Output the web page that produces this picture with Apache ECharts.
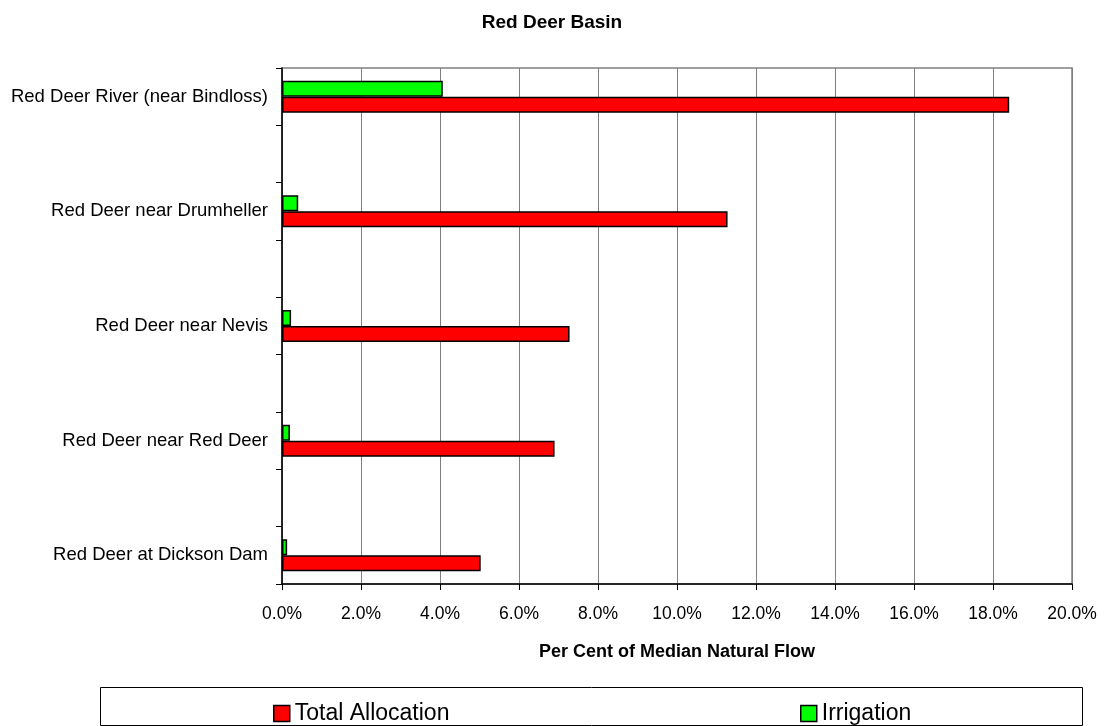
<!DOCTYPE html>
<html>
<head>
<meta charset="utf-8">
<script src="https://cdn.jsdelivr.net/npm/echarts@6.0.0/dist/echarts.min.js"></script>
<style>
  html, body { margin: 0; padding: 0; background: #ffffff; }
  #chart { width: 1104px; height: 726px; }
</style>
</head>
<body>
<div id="chart"></div>
<script>
// Gauging sites, listed bottom to top as they appear on the category axis
const sites = [
  'Red Deer at Dickson Dam',
  'Red Deer near Red Deer',
  'Red Deer near Nevis',
  'Red Deer near Drumheller',
  'Red Deer River (near Bindloss)'
];
// Per cent of median natural flow
const totalAllocation = [5.03, 6.90, 7.28, 11.28, 18.41];
const irrigation = [0.13, 0.20, 0.23, 0.41, 4.07];
// Value axis ticks (per cent)
const xTicks = [0, 2, 4, 6, 8, 10, 12, 14, 16, 18, 20];

// Each site sits in its own band with an empty band between neighbours
const slots = [];
const totalSlots = [];
const irrigationSlots = [];
sites.forEach((s, i) => {
  if (i > 0) {
    slots.push(' '.repeat(i));
    totalSlots.push(null);
    irrigationSlots.push(null);
  }
  slots.push(s);
  totalSlots.push(totalAllocation[i]);
  irrigationSlots.push(irrigation[i]);
});

const FONT = '"Liberation Sans", Arial, Helvetica, sans-serif';
const chart = echarts.init(document.getElementById('chart'), null, { renderer: 'canvas' });

const legendBase = {
  icon: 'rect',
  itemWidth: 16, itemHeight: 16, itemGap: 5,
  top: 697,
  itemStyle: { borderColor: '#000', borderWidth: 1.5 },
  textStyle: { fontFamily: FONT, fontSize: 23, color: '#000' }
};

chart.setOption({
  animation: false,
  backgroundColor: '#ffffff',
  textStyle: { fontFamily: FONT, color: '#000' },
  title: {
    text: 'Red Deer Basin',
    left: 'center',
    top: 8,
    textStyle: { fontFamily: FONT, fontSize: 19, fontWeight: 'bold', color: '#000' }
  },
  legend: [
    Object.assign({ data: ['Total Allocation'], left: 268 }, legendBase),
    Object.assign({ data: ['Irrigation'], left: 795 }, legendBase)
  ],
  graphic: [
    {
      type: 'rect',
      silent: true,
      shape: { x: 100.5, y: 687.5, width: 982, height: 38 },
      style: { fill: null, stroke: '#000', lineWidth: 1 }
    }
  ],
  grid: {
    left: 282, right: 32, top: 68, bottom: 142,
    show: true,
    borderColor: '#808080',
    borderWidth: 1.5,
    containLabel: false
  },
  xAxis: {
    type: 'value',
    min: xTicks[0],
    max: xTicks[xTicks.length - 1],
    interval: xTicks[1] - xTicks[0],
    name: 'Per Cent of Median Natural Flow',
    nameLocation: 'middle',
    nameGap: 59,
    nameTextStyle: { fontFamily: FONT, fontSize: 18, fontWeight: 'bold', color: '#000' },
    axisLine: { show: true, lineStyle: { color: '#000', width: 1.5 } },
    axisTick: { show: true, length: 6, lineStyle: { color: '#000', width: 1 } },
    axisLabel: {
      fontFamily: FONT, fontSize: 17.5, color: '#000', margin: 21,
      formatter: v => v.toFixed(1) + '%'
    },
    splitLine: { show: true, lineStyle: { color: '#808080', width: 1 } }
  },
  yAxis: {
    type: 'category',
    data: slots,
    axisLine: { show: true, lineStyle: { color: '#000', width: 1.5 } },
    axisTick: { show: true, interval: 0, length: 6, lineStyle: { color: '#000', width: 1 } },
    axisLabel: { interval: 0, fontFamily: FONT, fontSize: 18.5, color: '#000', margin: 14 },
    splitLine: { show: false }
  },
  series: [
    {
      name: 'Irrigation',
      type: 'bar',
      data: irrigationSlots,
      barWidth: 16,
      barGap: '0%',
      itemStyle: { color: '#00ff00', borderColor: '#000', borderWidth: 1.5 }
    },
    {
      name: 'Total Allocation',
      type: 'bar',
      data: totalSlots,
      barWidth: 16,
      barGap: '0%',
      itemStyle: { color: '#ff0000', borderColor: '#000', borderWidth: 1.5 }
    }
  ]
});
</script>
</body>
</html>
